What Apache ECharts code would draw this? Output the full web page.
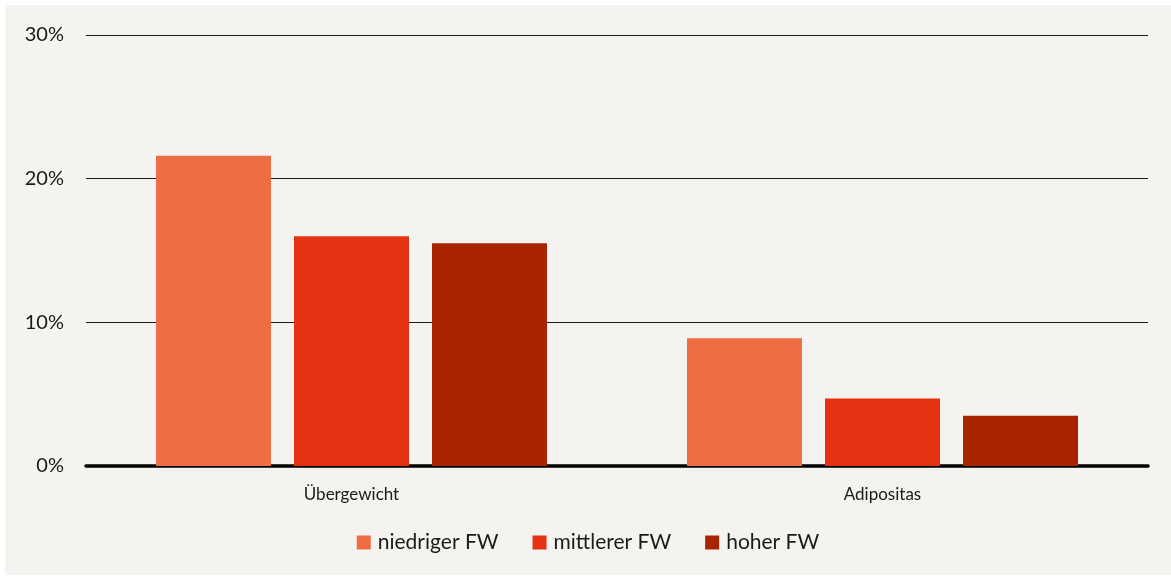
<!DOCTYPE html>
<html>
<head>
<meta charset="utf-8">
<script src="https://cdn.jsdelivr.net/npm/echarts@6/dist/echarts.min.js"></script>
<style>
  html, body { margin: 0; padding: 0; background: #ffffff; }
  #myChart { position: absolute; left: 5px; top: 5px; width: 1166px; height: 570px; background: #f4f3ef; }
</style>
</head>
<body>
<div id="myChart"></div>
<script>
  // Werte in Prozent
  let categories = ['Übergewicht', 'Adipositas'];
  let seriesNames = ['niedriger FW', 'mittlerer FW', 'hoher FW'];
  let niedrig = [21.6, 8.9];
  let mittel = [16.0, 4.7];
  let hoch = [15.5, 3.5];
  let colors = ['#ed6d45', '#e53212', '#a82400'];

  let font = 'Lato, "Open Sans", sans-serif';

  let option = {
    color: colors,
    animation: false,
    grid: {
      left: 81,
      right: 23,
      top: 30,
      bottom: 109
    },
    legend: {
      data: seriesNames,
      bottom: 17,
      left: 'center',
      itemWidth: 14,
      itemHeight: 14,
      itemGap: 34,
      icon: 'rect',
      textStyle: { fontFamily: font, fontSize: 21, color: '#1a1a1a', padding: [0, 0, 0, 2] }
    },
    xAxis: {
      type: 'category',
      data: categories,
      axisTick: { show: false },
      axisLine: { lineStyle: { color: '#000', width: 3.5 } },
      axisLabel: { fontFamily: font, fontSize: 17, color: '#1a1a1a', margin: 20 }
    },
    yAxis: {
      type: 'value',
      min: 0,
      max: 30,
      interval: 10,
      axisLine: { show: false },
      axisTick: { show: false },
      splitLine: { lineStyle: { color: '#1a1a1a', width: 1.2 } },
      axisLabel: {
        fontFamily: font, fontSize: 20, color: '#1a1a1a', margin: 22,
        formatter: '{value}%'
      }
    },
    series: [
      { name: seriesNames[0], type: 'bar', data: niedrig, barWidth: 115, barGap: '20%' },
      { name: seriesNames[1], type: 'bar', data: mittel, barWidth: 115, barGap: '20%' },
      { name: seriesNames[2], type: 'bar', data: hoch, barWidth: 115, barGap: '20%' }
    ]
  };

  let myChart = echarts.init(document.getElementById('myChart'));
  myChart.setOption(option);
</script>
</body>
</html>
